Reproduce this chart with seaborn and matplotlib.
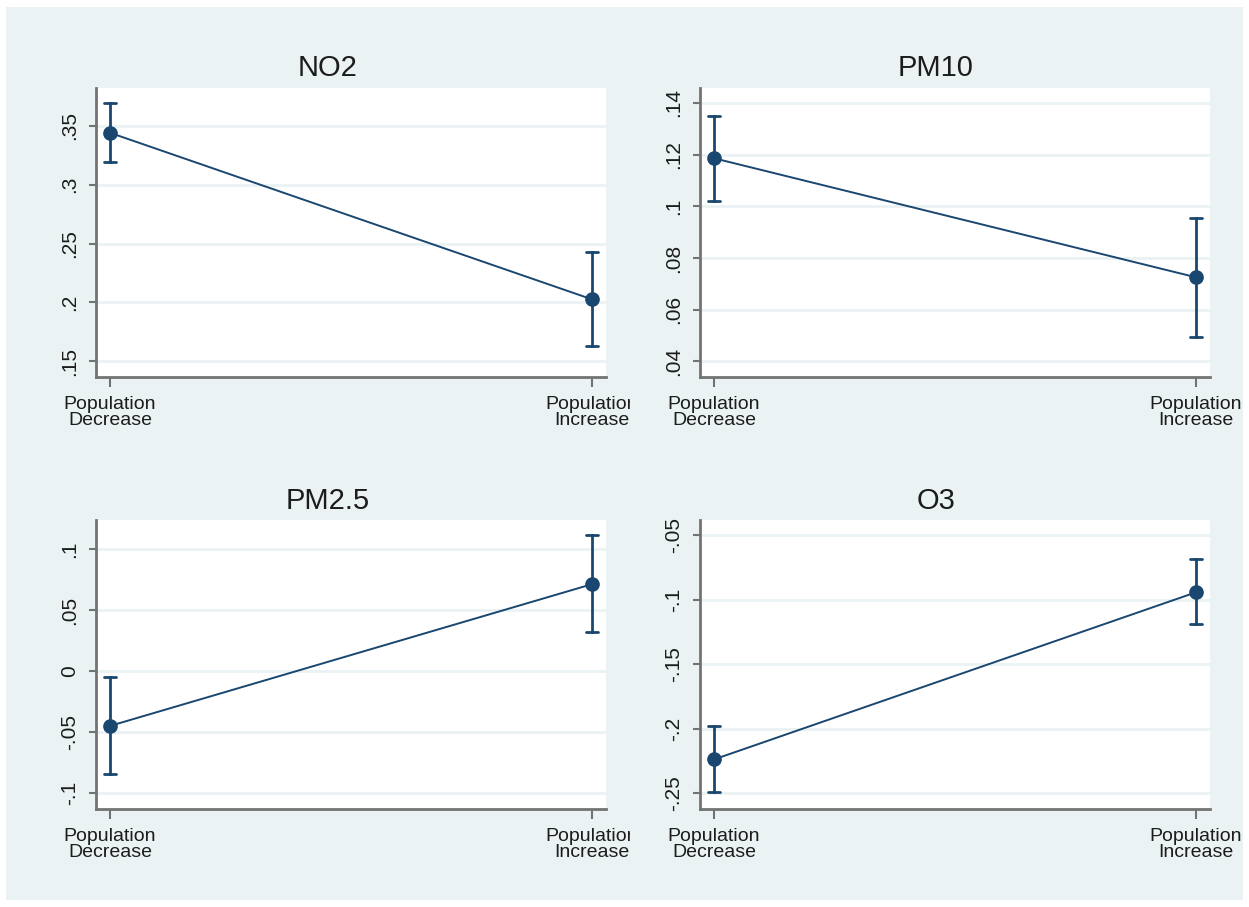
import numpy as np
import pandas as pd
import matplotlib
matplotlib.use("Agg")
import matplotlib.pyplot as plt
import seaborn as sns
from matplotlib.patches import Rectangle
from matplotlib.transforms import Bbox

# Group labels on the x axis
groups = ["Population\nDecrease", "Population\nIncrease"]

# Point estimates with lower / upper confidence bounds per pollutant
no2_est = [0.344, 0.2026]
no2_lo = [0.3188, 0.1628]
no2_hi = [0.3693, 0.2426]

pm10_est = [0.1186, 0.0725]
pm10_lo = [0.1022, 0.0494]
pm10_hi = [0.1351, 0.0953]

pm25_est = [-0.0448, 0.0714]
pm25_lo = [-0.0842, 0.0319]
pm25_hi = [-0.0047, 0.1118]

o3_est = [-0.2238, -0.0943]
o3_lo = [-0.2487, -0.1190]
o3_hi = [-0.1980, -0.0684]

# Y tick values per panel
no2_ticks = [0.15, 0.20, 0.25, 0.30, 0.35]
pm10_ticks = [0.04, 0.06, 0.08, 0.10, 0.12, 0.14]
pm25_ticks = [-0.10, -0.05, 0.0, 0.05, 0.10]
o3_ticks = [-0.25, -0.20, -0.15, -0.10, -0.05]

panels = [
    ("NO2", no2_est, no2_lo, no2_hi, no2_ticks, (0.1367, 0.382)),
    ("PM10", pm10_est, pm10_lo, pm10_hi, pm10_ticks, (0.0339, 0.1458)),
    ("PM2.5", pm25_est, pm25_lo, pm25_hi, pm25_ticks, (-0.1129, 0.124)),
    ("O3", o3_est, o3_lo, o3_hi, o3_ticks, (-0.2622, -0.0383)),
]

sns.set_style("ticks")
plt.rcParams["font.family"] = ["Liberation Sans", "DejaVu Sans"]

W, H = 1249, 907
NAVY = "#1A476F"
BG = "#EAF2F3"
AXC = "#737373"
TXT = "#1c1c1c"

fig = plt.figure(figsize=(W / 100, H / 100), dpi=100, facecolor="white")
fig.patches.append(Rectangle((6 / W, 7 / H), (1243 - 6) / W, (900 - 7) / H,
                             transform=fig.transFigure, facecolor=BG,
                             edgecolor="none", zorder=-10))

# Axes boxes in pixels: left, right, top, bottom
boxes = [(96, 606, 88, 377), (700, 1210, 88, 377),
         (96, 606, 520, 809), (700, 1210, 520, 809)]
title_pos = [(328, 68), (936, 68), (328, 501), (936, 501)]


def stata_fmt(v):
    s = f"{v:g}"
    if s.startswith("0."):
        s = s[1:]
    elif s.startswith("-0."):
        s = "-" + s[2:]
    return s


axes = []
for (name, est, lo, hi, ticks, ylim), (l, r, t, b), (tx, ty) in zip(panels, boxes, title_pos):
    ax = fig.add_axes([l / W, 1 - b / H, (r - l) / W, (b - t) / H])
    ax.set_facecolor("white")
    df = pd.DataFrame({
        "group": groups * 3,
        "value": list(lo) + list(est) + list(hi),
    })
    sns.pointplot(data=df, x="group", y="value", order=groups,
                  estimator="median", errorbar=("pi", 100),
                  color=NAVY, markersize=9.5, linewidth=1.4,
                  capsize=0.025, err_kws={"linewidth": 2.0}, ax=ax)
    ax.set_xlim(-0.029, 1.029)
    ax.set_ylim(*ylim)
    ax.set_yticks(ticks)
    ax.set_yticklabels([stata_fmt(v) for v in ticks])
    ax.set_xlabel("")
    ax.set_ylabel("")
    ax.yaxis.grid(True, color=BG, linewidth=2.0)
    ax.xaxis.grid(False)
    ax.set_axisbelow(True)
    for s in ("top", "right"):
        ax.spines[s].set_visible(False)
    for s in ("left", "bottom"):
        ax.spines[s].set_color(AXC)
        ax.spines[s].set_linewidth(2.0)
    ax.tick_params(axis="y", direction="out", length=5, width=1.5,
                   color=AXC, labelsize=15, labelcolor=TXT, pad=7,
                   labelrotation=90)
    ax.tick_params(axis="x", direction="out", length=7, width=1.5,
                   color=AXC, labelsize=14, labelcolor=TXT, pad=6.5)
    for lab in ax.get_yticklabels():
        lab.set_va("center")
    for lab in ax.get_xticklabels():
        lab.set_linespacing(0.95)
    fig.text(tx / W, 1 - ty / H, name, ha="center", va="center",
             fontsize=21, color=TXT)
    axes.append(ax)

fig.canvas.draw()
# Labels of the left-hand panels are cut at the edge of their graph region
clip = Bbox.from_extents(0, 0, 630, H)
for ax in (axes[0], axes[2]):
    for lab in ax.get_xticklabels():
        lab.set_clip_box(clip)
        lab.set_clip_on(True)

fig.savefig("out.png", dpi=100, facecolor="white")
